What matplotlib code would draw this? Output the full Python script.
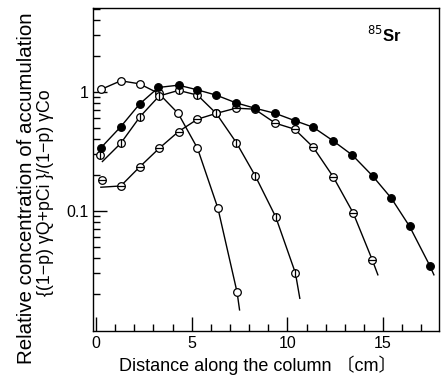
import numpy as np
import matplotlib
matplotlib.use('Agg')
import matplotlib.pyplot as plt
from matplotlib.ticker import LogLocator, NullFormatter, FixedLocator, FixedFormatter

plt.rcParams['font.family'] = ['Liberation Sans', 'DejaVu Sans', 'Noto Sans CJK JP']

# serie (distanza in cm, concentrazione relativa)
xa = [0.26, 1.29, 2.27, 3.28, 4.29, 5.30, 6.37, 7.37]
ya = [1.05, 1.24, 1.17, 0.97, 0.66, 0.336, 0.105, 0.0207]
xa_end = [7.50]
ya_end = [0.0147]

xb = [0.26, 1.29, 2.27, 3.26, 4.31, 5.30, 6.28, 7.31, 8.30, 9.37, 10.38, 11.35, 12.37, 13.40, 14.45, 15.43, 16.39, 17.45]
yb = [0.34, 0.51, 0.79, 1.09, 1.14, 1.04, 0.94, 0.81, 0.73, 0.66, 0.574, 0.505, 0.39, 0.294, 0.197, 0.128, 0.074, 0.0345]
xb_end = [17.66]
yb_end = [0.029]

xc = [0.21, 1.29, 2.30, 3.30, 4.31, 5.30, 6.28, 7.33, 8.32, 9.39, 10.42]
yc = [0.296, 0.37, 0.62, 0.925, 1.03, 0.94, 0.66, 0.375, 0.197, 0.089, 0.030]
xc_start = [0.33]
yc_start = [0.26]
xc_end = [10.65]
yc_end = [0.0184]

xd = [0.30, 1.29, 2.30, 3.30, 4.31, 5.30, 6.28, 7.31, 8.29, 9.37, 10.38, 11.35, 12.39, 13.44, 14.43]
yd = [0.182, 0.162, 0.236, 0.336, 0.464, 0.59, 0.66, 0.73, 0.716, 0.546, 0.486, 0.343, 0.194, 0.096, 0.039]
xd_start = [0.25]
yd_start = [0.158]
xd_end = [14.73]
yd_end = [0.029]

fig = plt.figure(figsize=(4.43, 3.79), dpi=100)
ax = fig.add_axes([0.210, 0.127, 0.782, 0.852])

lw = 1.0
ms = 5.5

# curve
ax.plot(xa + xa_end, ya + ya_end, 'k-', lw=lw)
ax.plot(xb + xb_end, yb + yb_end, 'k-', lw=lw)
ax.plot(xc_start + xc[1:] + xc_end, yc_start + yc[1:] + yc_end, 'k-', lw=lw)
ax.plot(xd_start + xd[1:] + xd_end, yd_start + yd[1:] + yd_end, 'k-', lw=lw)

# marcatori
ax.plot(xa, ya, 'o', ms=ms, mfc='white', mec='k', mew=0.9, ls='none', zorder=3)
ax.plot(xd, yd, 'o', ms=ms, mfc='white', mec='k', mew=0.9, ls='none', zorder=4)
ax.plot(xd, yd, '_', ms=ms, mec='k', mew=0.9, ls='none', zorder=4)
ax.plot(xc, yc, 'o', ms=ms, mfc='white', mec='k', mew=0.9, ls='none', zorder=5)
ax.plot(xc, yc, '|', ms=ms, mec='k', mew=0.9, ls='none', zorder=5)
ax.plot(xb, yb, 'o', ms=ms, mfc='black', mec='k', mew=0.9, ls='none', zorder=6)

ax.set_yscale('log')
ax.set_xlim(-0.16, 17.95)
ax.set_ylim(0.0098, 5.08)

ax.yaxis.set_major_locator(FixedLocator([0.1, 1]))
ax.yaxis.set_major_formatter(FixedFormatter(['0.1', '1']))
ax.yaxis.set_minor_locator(LogLocator(base=10, subs=np.arange(2, 10)))
ax.yaxis.set_minor_formatter(NullFormatter())
ax.set_xticks([0, 5, 10, 15])
ax.set_xticks(np.arange(1, 18), minor=True)

ax.tick_params(which='both', direction='in', top=False, right=False, labelsize=11.5)
ax.tick_params(which='major', length=10, width=1)
ax.tick_params(which='minor', length=5, width=1)
for s in ax.spines.values():
    s.set_linewidth(1.0)

ax.set_xlabel('Distance along the column 〔cm〕', fontsize=13, labelpad=3)
ax.xaxis.set_label_coords(0.475, -0.075)

# etichetta y su due righe di dimensioni diverse
fig.text(27 / 443, 1 - 188 / 379, 'Relative concentration of accumulation',
         rotation=90, ha='center', va='center', fontsize=14.8)
fig.text(46 / 443, 1 - 193 / 379, '{(1\u2212p) \u03b3Q+pCi }/(1\u2212p) \u03b3Co',
         rotation=90, ha='center', va='center', fontsize=12.8)

ax.text(0.79, 0.895, '$^{85}$Sr', transform=ax.transAxes, fontsize=12, fontweight='bold')

fig.savefig('out.png', dpi=100)
